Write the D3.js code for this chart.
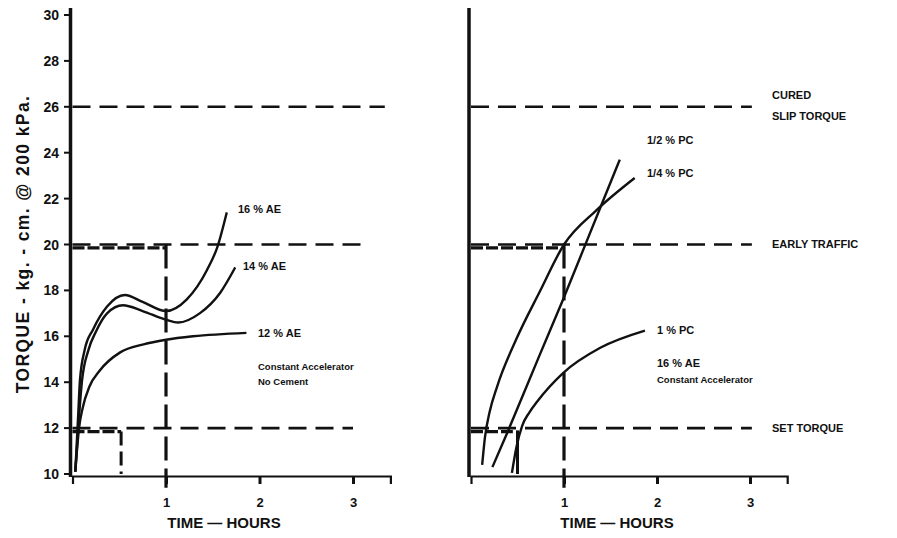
<!DOCTYPE html>
<html>
<head>
<meta charset="utf-8">
<script src="https://cdn.jsdelivr.net/npm/d3@7/dist/d3.min.js"></script>
<style>
  html, body { margin: 0; padding: 0; background: #fff; }
  svg { display: block; }
  text { font-family: "Liberation Sans", Arial, sans-serif; font-weight: bold; fill: #111; }
</style>
</head>
<body>
<svg id="chart" width="897" height="538"></svg>
<script>
// Tick values
const torqueTicks = [10, 12, 14, 16, 18, 20, 22, 24, 26, 28, 30];
const hourTicks = [1, 2, 3];

// Left panel: accelerator-only mixes, [hours, torque]
const ae16 = [[0.03,10.1],[0.06,12.5],[0.08,14.1],[0.13,15.4],[0.22,16.3],[0.37,17.3],[0.56,17.8],[0.75,17.5],[1.0,17.1],[1.22,17.6],[1.44,18.9],[1.55,19.9],[1.65,21.4]];
const ae14 = [[0.03,10.1],[0.07,12.5],[0.1,14.0],[0.17,15.4],[0.25,16.2],[0.37,17.0],[0.54,17.35],[0.75,17.1],[1.0,16.72],[1.13,16.6],[1.36,17.0],[1.58,17.9],[1.74,19.0]];
const ae12 = [[0.03,10.1],[0.07,12.0],[0.11,12.9],[0.18,13.8],[0.29,14.5],[0.51,15.3],[0.76,15.65],[1.0,15.85],[1.29,16.0],[1.86,16.15]];
const leftNames = ["16 % AE", "14 % AE", "12 % AE"];

// Right panel: 16 % AE with portland cement, [hours, torque]
const pcHalf = [[0.23,10.3],[0.39,11.8],[0.74,15.2],[0.99,17.6],[1.2,19.7],[1.39,21.6],[1.6,23.7]];
const pcQuarter = [[0.12,10.4],[0.15,11.6],[0.2,12.7],[0.28,13.8],[0.49,15.9],[0.74,17.95],[1.0,20.0],[1.35,21.5],[1.76,22.9]];
const pc1 = [[0.44,10.05],[0.49,11.2],[0.55,12.1],[0.63,12.7],[0.71,13.15],[0.99,14.4],[1.39,15.5],[1.87,16.25]];
const rightNames = ["1/2 % PC", "1/4 % PC", "1 % PC"];

// Reference torque levels
const referenceTorque = [12, 20, 26];
const referenceNames = [["SET TORQUE"], ["EARLY TRAFFIC"], ["CURED", "SLIP TORQUE"]];

const svg = d3.select("#chart");

const y = d3.scaleLinear().domain([10, 30]).range([474, 15]);
const xL = d3.scaleLinear().domain([0, 3.4]).range([72.5, 390.4]);
const xR = d3.scaleLinear().domain([0, 3.4]).range([471, 787.2]);

function drawPanel(x, opts) {
  const g = svg.append("g");
  const line = d3.line().x(d => x(d[0])).y(d => y(d[1])).curve(d3.curveMonotoneX);

  // x axis
  const xa = g.append("g").attr("transform", `translate(0,${y(10) + 2})`)
    .call(d3.axisBottom(x).tickValues(hourTicks).tickSize(8).tickFormat(d3.format("d")));
  xa.select(".domain").attr("stroke", "#111").attr("stroke-width", 2.2);
  xa.selectAll(".tick line").attr("stroke", "#111").attr("stroke-width", 3);
  xa.selectAll(".tick text").attr("font-size", 13).attr("dy", "1.55em")
    .style("font-family", "'Liberation Sans', Arial, sans-serif").style("font-weight", "bold");

  // y axis line
  g.append("line").attr("x1", x(0) - 2).attr("x2", x(0) - 2).attr("y1", 8).attr("y2", y(10) + 3)
    .attr("stroke", "#111").attr("stroke-width", 3.5);

  // reference lines
  referenceTorque.forEach((v, i) => {
    g.append("line").attr("x1", x(0)).attr("x2", x(opts.refEnd[i])).attr("y1", y(v)).attr("y2", y(v))
      .attr("stroke", "#111").attr("stroke-width", 2.6).attr("stroke-dasharray", "18,9");
  });

  // heavy markers at the 20 and 12 crossings
  opts.marks.forEach(m => {
    g.append("line").attr("x1", x(0)).attr("x2", x(m.t)).attr("y1", y(m.v)).attr("y2", y(m.v))
      .attr("stroke", "#111").attr("stroke-width", 3.2).attr("stroke-dasharray", "12,3");
  });
  g.append("line").attr("x1", x(1)).attr("x2", x(1)).attr("y1", y(20)).attr("y2", y(9.4))
    .attr("stroke", "#111").attr("stroke-width", 3.2).attr("stroke-dasharray", "24,8");
  g.append("line").attr("x1", x(opts.drop.t)).attr("x2", x(opts.drop.t)).attr("y1", y(opts.drop.v)).attr("y2", y(10))
    .attr("stroke", "#111").attr("stroke-width", 3).attr("stroke-dasharray", opts.drop.dash);

  // curves
  opts.series.forEach(s => {
    g.append("path").attr("d", line(s)).attr("fill", "none").attr("stroke", "#111").attr("stroke-width", 2.4);
  });

  // x title
  g.append("text").attr("x", opts.titleX).attr("y", 528).attr("text-anchor", "middle")
    .attr("font-size", 15).text("TIME \u2014 HOURS");
  return g;
}

// Left panel
const gl = drawPanel(xL, {
  refEnd: [3.0, 3.13, 3.34],
  marks: [{t: 1, v: 19.85}, {t: 0.52, v: 11.85}],
  drop: {t: 0.52, v: 11.85, dash: "14,6"},
  series: [ae16, ae14, ae12],
  titleX: 224
});

// y axis ticks and labels (left only)
torqueTicks.forEach(v => {
  gl.append("line").attr("x1", 64).attr("x2", 69).attr("y1", y(v)).attr("y2", y(v))
    .attr("stroke", "#111").attr("stroke-width", 2);
  gl.append("text").attr("x", 59).attr("y", y(v)).attr("dy", "0.36em").attr("text-anchor", "end")
    .attr("font-size", 14).text(v);
});
gl.append("text").attr("transform", `translate(29,244) rotate(-90)`).attr("text-anchor", "middle")
  .attr("font-size", 17.5).attr("letter-spacing", 1.4).text("TORQUE - kg. - cm. @ 200 kPa.");

const leftLabels = [[238, 209], [243, 266], [258, 333]];
leftNames.forEach((n, i) => {
  gl.append("text").attr("x", leftLabels[i][0]).attr("y", leftLabels[i][1]).attr("dy", "0.36em")
    .attr("font-size", 11).text(n);
});
gl.append("text").attr("x", 258).attr("y", 367).attr("dy", "0.36em").attr("font-size", 9.5).text("Constant Accelerator");
gl.append("text").attr("x", 258).attr("y", 382).attr("dy", "0.36em").attr("font-size", 9.5).text("No Cement");

// Right panel
const gr = drawPanel(xR, {
  refEnd: [3.02, 3.02, 3.02],
  marks: [{t: 0.95, v: 19.85}, {t: 0.45, v: 11.85}],
  drop: {t: 0.5, v: 11.9, dash: "none"},
  series: [pcHalf, pcQuarter, pc1],
  titleX: 617
});

const rightLabels = [[647, 140], [647, 173], [657, 330]];
rightNames.forEach((n, i) => {
  gr.append("text").attr("x", rightLabels[i][0]).attr("y", rightLabels[i][1]).attr("dy", "0.36em")
    .attr("font-size", 11).text(n);
});
gr.append("text").attr("x", 657).attr("y", 363).attr("dy", "0.36em").attr("font-size", 11).text("16 % AE");
gr.append("text").attr("x", 657).attr("y", 380).attr("dy", "0.36em").attr("font-size", 9.5).text("Constant Accelerator");

referenceTorque.forEach((v, i) => {
  const lines = referenceNames[i];
  const y0 = lines.length === 1 ? y(v) : y(v) - 12;
  lines.forEach((t, j) => {
    gr.append("text").attr("x", 772).attr("y", y0 + j * 21).attr("dy", "0.36em")
      .attr("font-size", 11).text(t);
  });
});
</script>
</body>
</html>
